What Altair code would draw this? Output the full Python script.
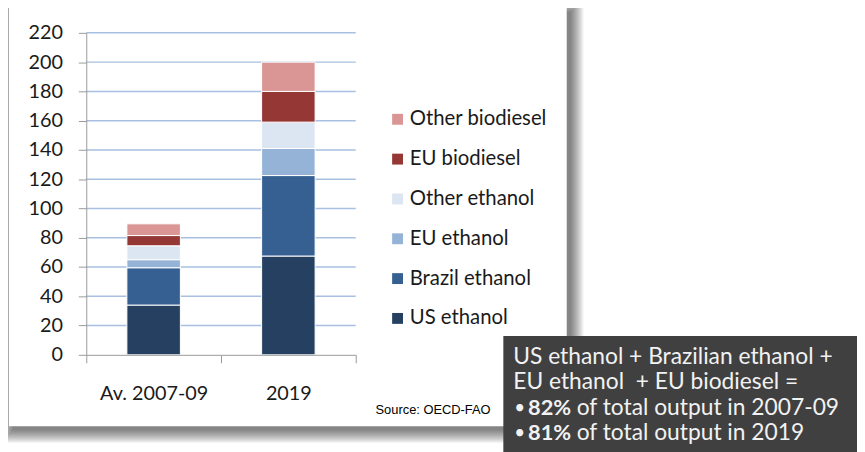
import altair as alt
import pandas as pd

# ---- data ----
periods = ["Av. 2007-09", "2019"]
series = ["US ethanol", "Brazil ethanol", "EU ethanol", "Other ethanol", "EU biodiesel", "Other biodiesel"]
colors = ["#254061", "#366092", "#95B3D7", "#DCE6F2", "#953735", "#D99694"]
vals_2007 = [34, 25.5, 5.5, 9.5, 7, 8]
vals_2019 = [67.5, 55, 18.5, 18, 21, 20]
y_ticks = [0, 20, 40, 60, 80, 100, 120, 140, 160, 180, 200, 220]

rows = []
for i, s in enumerate(series):
    rows.append({"period": periods[0], "series": s, "value": vals_2007[i], "o": i})
    rows.append({"period": periods[1], "series": s, "value": vals_2019[i], "o": i})
df = pd.DataFrame(rows)
grid_df = pd.DataFrame({"value": y_ticks[1:]})

W, H = 272, 325
FONT = "Lato"
one = alt.Data(values=[{"a": 1}])

y_axis = alt.Axis(values=y_ticks, grid=False, labelFont=FONT, labelFontSize=20,
                  labelColor="#1a1a1a", domainColor="#9a9a9a", tickColor="#9a9a9a",
                  tickSize=8, labelPadding=16, zindex=1)
y_scale = alt.Scale(domain=[0, 220], nice=False)

layers = []
# card shadow
cx1, cx2, cy1, cy2 = -78, 485, -25, 397
for i in range(14):
    layers.append(
        alt.Chart(one).mark_rect(color="black", opacity=0.045).encode(
            x=alt.value(cx1 + 4 - i), x2=alt.value(cx2 + 4 + i),
            y=alt.value(cy1 + 4 - i), y2=alt.value(cy2 + 4 + i)))
# card
layers.append(alt.Chart(one).mark_rect(color="white").encode(
    x=alt.value(cx1), x2=alt.value(cx2), y=alt.value(cy1), y2=alt.value(cy2)))

# gridlines
layers.append(alt.Chart(grid_df).mark_rule(color="#A9C0E2", strokeWidth=1.5).encode(
    y=alt.Y("value:Q", scale=y_scale, axis=y_axis, title=None)))

# bars
legend_order = list(reversed(series))
legend_colors = list(reversed(colors))
bars = alt.Chart(df).mark_bar(size=54, stroke="white", strokeWidth=1).encode(
    x=alt.X("period:N", sort=periods, title=None,
            scale=alt.Scale(paddingInner=0, paddingOuter=0),
            axis=alt.Axis(labelAngle=0, labelFont=FONT, labelFontSize=20, labelColor="#1a1a1a",
                          domainColor="#9a9a9a", tickColor="#9a9a9a", tickSize=8,
                          tickBand="extent", labelPadding=21, zindex=1)),
    y=alt.Y("value:Q", stack="zero", title=None, scale=y_scale, axis=y_axis),
    color=alt.Color("series:N", scale=alt.Scale(domain=legend_order, range=legend_colors),
                    legend=alt.Legend(title=None, orient="none", legendX=304, legendY=77,
                                      symbolType="square", symbolSize=121, symbolStrokeWidth=0,
                                      labelFont=FONT, labelFontSize=20.5, labelColor="#1a1a1a",
                                      labelOffset=2, rowPadding=19.2, padding=0)),
    order=alt.Order("o:Q", sort="ascending"),
)
layers.append(bars)

# source
layers.append(alt.Chart(one).mark_text(text="Source: OECD-FAO", font="Liberation Sans", fontSize=13,
                                        align="left", baseline="middle", color="black").encode(
    x=alt.value(292), y=alt.value(381)))

# annotation box
layers.append(alt.Chart(one).mark_rect(color="#404040").encode(
    x=alt.value(421), x2=alt.value(790), y=alt.value(306), y2=alt.value(430)))

BOXFONT = "Lato"
BS = 23
def txt(t, x, y, bold=False, size=BS):
    return alt.Chart(one).mark_text(text=t, font=BOXFONT, fontSize=size, align="left",
                                    baseline="alphabetic", color="#f2f2f2",
                                    fontWeight="bold" if bold else "normal").encode(
        x=alt.value(x), y=alt.value(y))

layers += [
    txt("US ethanol + Brazilian ethanol +", 431, 334),
    txt("EU ethanol\u00a0 + EU biodiesel =", 431, 360),
    txt("\u2022", 432, 385, size=19), txt("82%", 446, 386, True, 22), txt("of total output in 2007-09", 495, 386),
    txt("\u2022", 432, 410, size=19), txt("81%", 446, 411, True, 22), txt("of total output in 2019", 495, 411),
]

chart = alt.layer(*layers).properties(
    width=W, height=H,
    autosize=alt.AutoSizeParams(type="none"),
    padding={"left": 79, "top": 23, "right": 506, "bottom": 96},
).configure_view(stroke=None).configure(background="white")

chart.save("out.html", embed_options={"renderer": "svg", "actions": False})
